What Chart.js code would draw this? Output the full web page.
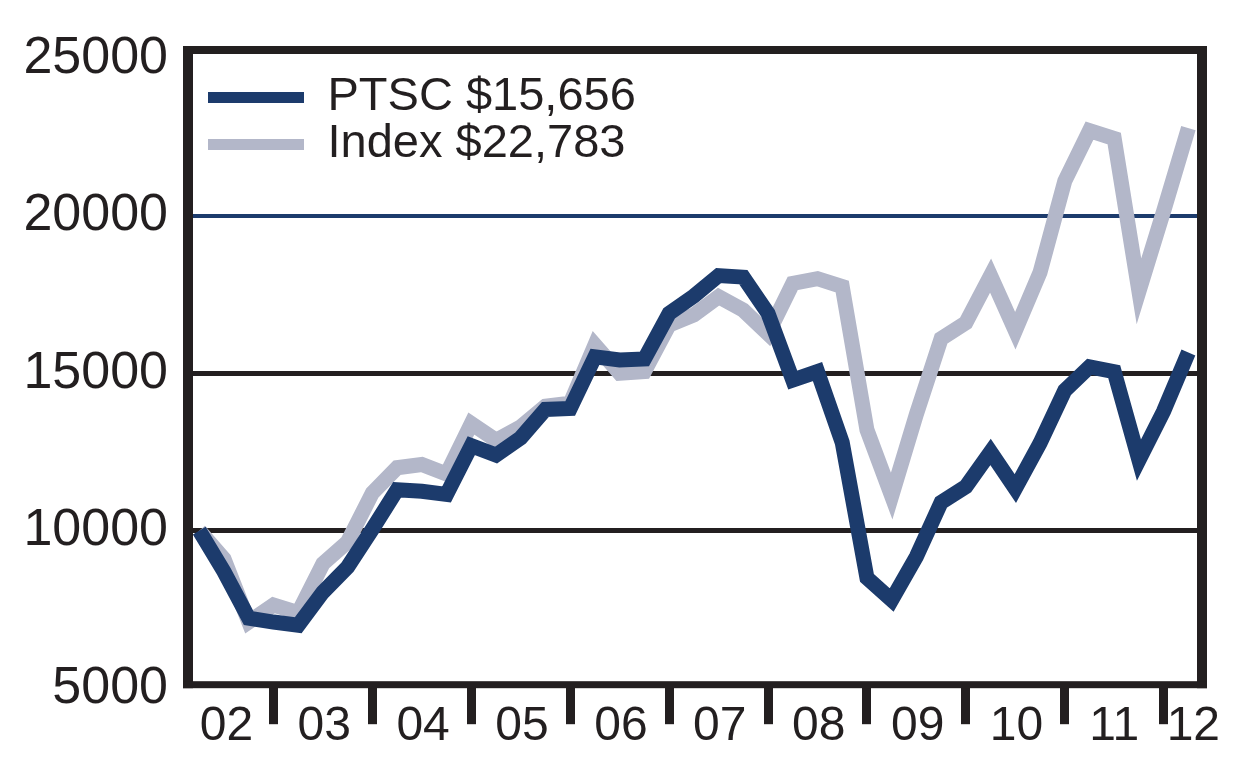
<!DOCTYPE html>
<html>
<head>
<meta charset="utf-8">
<title>PTSC vs Index</title>
<script src="https://cdn.jsdelivr.net/npm/chart.js@4.4.1/dist/chart.umd.min.js"></script>
<style>
  html, body { margin: 0; padding: 0; background: #fff; }
  #wrap { width: 1256px; height: 776px; }
</style>
</head>
<body>
<div id="wrap"><canvas id="growthChart" width="1256" height="776"></canvas></div>
<script>
// quarterly values of a $10,000 investment, index 0 = first quarter of 2002
const ptscValues = [
  10000, 8700, 7220, 7100, 7000, 8050, 8850, 10050, 11300, 11250,
  11150, 12700, 12400, 12950, 13850, 13880, 15520, 15420, 15450, 16900,
  17450, 18100, 18050, 16900, 14780, 15050, 12800, 8500, 7800, 9175,
  10900, 11400, 12500, 11340, 12780, 14450, 15200, 15050, 12240, 13800,
  15656
];
const indexValues = [
  10000, 9100, 7100, 7640, 7400, 8950, 9650, 11200, 12000, 12100,
  11800, 13400, 12870, 13300, 13950, 14050, 15900, 15000, 15050, 16530,
  16850, 17430, 17000, 16250, 17850, 18000, 17750, 13200, 11100, 13700,
  16100, 16600, 18100, 16350, 18200, 21100, 22700, 22450, 17600, 20150,
  22783
];
const seriesNames = ['PTSC $15,656', 'Index $22,783'];

// x axis: year labels sit mid-year, separators between years (in quarters)
const yearLabels = ['02', '03', '04', '05', '06', '07', '08', '09', '10', '11', '12'];
const yearLabelPos = [1.1, 5.05, 9.05, 13.05, 17.05, 21.05, 25.05, 29.05, 33.05, 37, 40.2];
const yearTickPos = [3, 7, 11, 15, 19, 23, 27, 31, 35, 39];
const yTicks = [5000, 10000, 15000, 20000, 25000];

const NAVY = '#1c3b6c';
const GREY = '#b3b7c9';
const INK = '#231f20';
const FONT = "'Liberation Sans', Arial, Helvetica, sans-serif";

const toPoints = vals => vals.map((v, i) => ({ x: i, y: v }));

// black frame round the plot area
const framePlugin = {
    id: 'frame',
    afterDatasetsDraw(chart) {
        const { ctx, chartArea: a } = chart;
        ctx.save();
        ctx.fillStyle = INK;
        const top = a.top - 6;
        ctx.fillRect(a.left - 5, top, 10, a.bottom - top);          // left
        ctx.fillRect(a.right - 5, top, 10, a.bottom - top);         // right
        ctx.fillRect(a.left - 5, top, a.right - a.left + 10, 8);    // top
        ctx.fillRect(a.left - 5, a.bottom - 7, a.right - a.left + 10, 7); // bottom
        ctx.restore();
    }
};

// move the legend into the upper-left corner of the plot
const legendPlace = {
    id: 'legendPlace',
    afterLayout(chart) {
        const lg = chart.legend;
        const a = chart.chartArea;
        if (!lg) return;
        lg.left = a.left + 20;
        lg.top = a.top + 22;
        lg.right = a.right;
        lg.bottom = a.bottom;
    }
};

const ctx = document.getElementById('growthChart').getContext('2d');

new Chart(ctx, {
    type: 'line',
    data: {
        datasets: [
            {
                label: seriesNames[0],
                data: toPoints(ptscValues),
                borderColor: NAVY,
                backgroundColor: NAVY,
                borderWidth: 15,
                pointRadius: 0,
                tension: 0,
                fill: false
            },
            {
                label: seriesNames[1],
                data: toPoints(indexValues),
                borderColor: GREY,
                backgroundColor: GREY,
                borderWidth: 15,
                pointRadius: 0,
                tension: 0,
                fill: false
            }
        ]
    },
    options: {
        responsive: false,
        animation: false,
        devicePixelRatio: 1,
        layout: {
            padding: { left: 3.4, right: 54, top: 52, bottom: 7.8 }
        },
        plugins: {
            tooltip: { enabled: false },
            legend: {
                position: 'chartArea',
                align: 'start',
                labels: {
                    boxWidth: 96,
                    boxHeight: 11,
                    padding: 0,
                    color: INK,
                    font: { family: FONT, size: 47 },
                    generateLabels: chart =>
                        Chart.defaults.plugins.legend.labels.generateLabels(chart)
                            .map(item => ({ ...item, lineWidth: 0 }))
                }
            }
        },
        scales: {
            x: {
                type: 'linear',
                min: -0.457,
                max: 40.55,
                border: { display: false },
                grid: {
                    drawOnChartArea: false,
                    drawTicks: true,
                    tickLength: 36,
                    tickWidth: 9,
                    tickColor: c => (c.tick && c.tick.mark ? INK : 'rgba(0,0,0,0)')
                },
                afterBuildTicks: axis => {
                    const marks = yearTickPos.map(v => ({ value: v, mark: true, text: '' }));
                    const labels = yearLabelPos.map((v, i) => ({ value: v, mark: false, text: yearLabels[i] }));
                    axis.ticks = marks.concat(labels).sort((p, q) => p.value - q.value);
                },
                // labels overlap the separator marks, so give the axis room for them
                afterFit: axis => {
                    axis.height = 80;
                },
                ticks: {
                    autoSkip: false,
                    maxRotation: 0,
                    minRotation: 0,
                    padding: -26,
                    color: INK,
                    font: { family: FONT, size: 48 },
                    callback: (value, index, ticks) => ticks[index].text
                }
            },
            y: {
                min: 5000,
                max: 25197,
                border: { display: false },
                grid: {
                    drawTicks: false,
                    color: c => {
                        const v = c.tick ? c.tick.value : null;
                        if (v === 20000) return NAVY;
                        if (v === 10000 || v === 15000) return INK;
                        return 'rgba(0,0,0,0)';
                    },
                    lineWidth: c => (c.tick && c.tick.value === 20000 ? 4 : 5)
                },
                afterBuildTicks: axis => {
                    axis.ticks = yTicks.map(v => ({ value: v }));
                },
                ticks: {
                    padding: 20,
                    color: INK,
                    font: { family: FONT, size: 52 },
                    callback: value => String(value)
                }
            }
        }
    },
    plugins: [legendPlace, framePlugin]
});
</script>
</body>
</html>
